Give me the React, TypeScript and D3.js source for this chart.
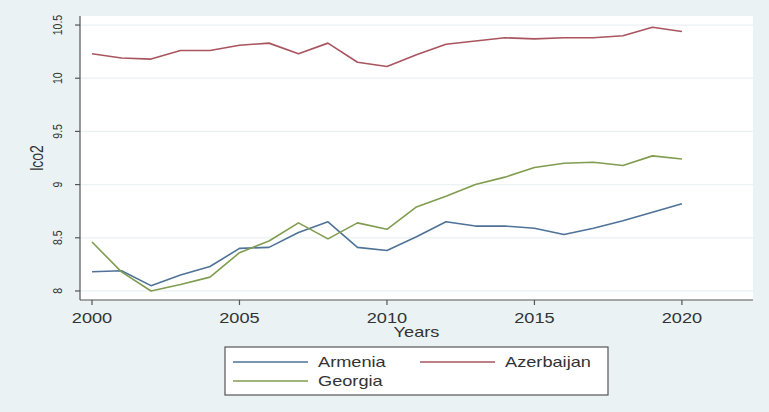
import React from "react";
import { scaleLinear, line } from "d3";

const years = [2000, 2001, 2002, 2003, 2004, 2005, 2006, 2007, 2008, 2009, 2010,
  2011, 2012, 2013, 2014, 2015, 2016, 2017, 2018, 2019, 2020];

const armenia = [8.18, 8.19, 8.05, 8.15, 8.23, 8.40, 8.41, 8.55, 8.65, 8.41, 8.38,
  8.51, 8.65, 8.61, 8.61, 8.59, 8.53, 8.59, 8.66, 8.74, 8.82];
const azerbaijan = [10.23, 10.19, 10.18, 10.26, 10.26, 10.31, 10.33, 10.23, 10.33, 10.15, 10.11,
  10.22, 10.32, 10.35, 10.38, 10.37, 10.38, 10.38, 10.40, 10.48, 10.44];
const georgia = [8.46, 8.18, 8.00, 8.06, 8.13, 8.36, 8.47, 8.64, 8.49, 8.64, 8.58,
  8.79, 8.89, 9.00, 9.07, 9.16, 9.20, 9.21, 9.18, 9.27, 9.24];

const yTicks = [8, 8.5, 9, 9.5, 10, 10.5];
const xTicks = [2000, 2005, 2010, 2015, 2020];

const seriesNames = ["Armenia", "Azerbaijan", "Georgia"];
const seriesColors = ["#4e7298", "#a9545e", "#809c4f"];

const W = 769;
const H = 412;
// picture is stretched sideways, so text gets a horizontal scale
const SX = 1.3;

function App() {
  const left = 80, right = 753, top = 16, bottom = 300;
  const x = scaleLinear().domain([1999.593, 2022.41]).range([left, right]);
  const y = scaleLinear().domain([7.915, 10.585]).range([bottom, top]);

  const path = line<number>()
    .x((d, i) => x(years[i]))
    .y((d) => y(d));

  const series = [armenia, azerbaijan, georgia];
  const font = "'Liberation Sans', Arial, sans-serif";

  const legendRows = [
    { name: seriesNames[0], color: seriesColors[0], lx: 233, tx: 318, ly: 362 },
    { name: seriesNames[1], color: seriesColors[1], lx: 420, tx: 505, ly: 362 },
    { name: seriesNames[2], color: seriesColors[2], lx: 233, tx: 318, ly: 381 },
  ];

  return (
    <svg width={W} height={H} style={{ position: "absolute", left: 0, top: 0, display: "block" }}
      fontFamily={font}>
      <rect width={W} height={H} fill="#eaf2f3" />
      <rect x={left} y={top} width={right - left} height={bottom - top} fill="#ffffff" />

      {/* grid */}
      {yTicks.map((t) => (
        <line key={"g" + t} x1={left} x2={right} y1={y(t)} y2={y(t)} stroke="#eaf2f3" strokeWidth={1.2} />
      ))}

      {/* lines */}
      {series.map((s, i) => (
        <path key={seriesNames[i]} d={path(s) || ""} fill="none" stroke={seriesColors[i]}
          strokeWidth={1.6} strokeLinejoin="round" />
      ))}

      {/* y axis */}
      <line x1={left} x2={left} y1={top} y2={bottom} stroke="#555" strokeWidth={1.2} />
      {yTicks.map((t) => (
        <g key={"y" + t}>
          <line x1={left - 5} x2={left} y1={y(t)} y2={y(t)} stroke="#555" strokeWidth={1.2} />
          <text transform={`translate(62,${y(t)}) scale(${SX},1) rotate(-90)`} textAnchor="middle"
            fontSize={10.5} fill="#333">{t}</text>
        </g>
      ))}
      <text transform={`translate(43,158) scale(${SX},1) rotate(-90)`} textAnchor="middle"
        fontSize={14} fill="#333">lco2</text>

      {/* x axis */}
      <line x1={left} x2={right} y1={bottom} y2={bottom} stroke="#555" strokeWidth={1.2} />
      {xTicks.map((t) => (
        <g key={"x" + t}>
          <line x1={x(t)} x2={x(t)} y1={bottom} y2={bottom + 5} stroke="#555" strokeWidth={1.2} />
          <text transform={`translate(${x(t)},323) scale(${SX},1)`} textAnchor="middle"
            fontSize={14} fill="#333">{t}</text>
        </g>
      ))}
      <text transform={`translate(${(left + right) / 2},337) scale(${SX},1)`} textAnchor="middle"
        fontSize={14} fill="#333">Years</text>

      {/* legend */}
      <rect x={225} y={347} width={383} height={48} fill="#ffffff" stroke="#555" strokeWidth={1.2} />
      {legendRows.map((r) => (
        <g key={"l" + r.name}>
          <line x1={r.lx} x2={r.lx + 75} y1={r.ly} y2={r.ly} stroke={r.color} strokeWidth={1.6} />
          <text transform={`translate(${r.tx},${r.ly + 5}) scale(${SX},1)`} fontSize={14} fill="#333">
            {r.name}
          </text>
        </g>
      ))}
    </svg>
  );
}

export default App;
